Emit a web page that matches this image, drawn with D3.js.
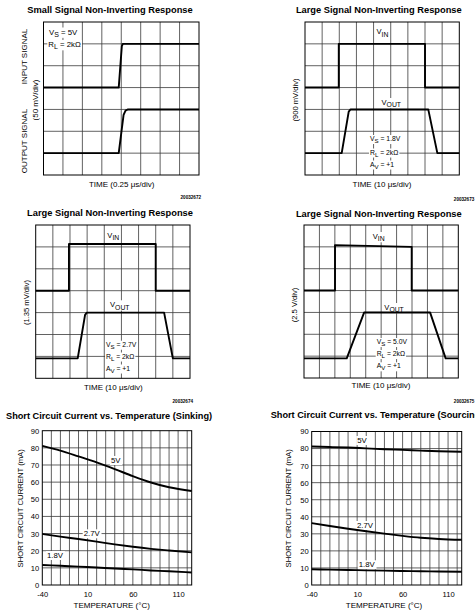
<!DOCTYPE html>
<html><head><meta charset="utf-8">
<script src="https://cdn.jsdelivr.net/npm/d3@7"></script>
<style>
body{margin:0;background:#fff}
svg{display:block}
text{font-family:"Liberation Sans",Arial,Helvetica,sans-serif;fill:#000}
</style>
</head><body>
<svg id="c" width="475" height="614"></svg>
<script>
// ---------------- DATA ----------------
// Scope traces: time in divisions, level in divisions (from bottom of screen)
const p1InTime   = [0, 3.87, 4.03, 4.08, 8];
const p1InLevel  = [4, 4, 5.9, 6, 6];
const p1OutTime  = [0, 3.87, 4.12, 4.22, 4.35, 8];
const p1OutLevel = [1, 1, 2.75, 2.95, 3, 3];

const p2InTime   = [0, 1.97, 1.97, 7.0, 7.0, 9];
const p2InLevel  = [4, 4, 6, 6, 4, 4];
const p2OutTime  = [0, 2.14, 2.55, 2.66, 7.19, 7.72, 9];
const p2OutLevel = [1, 1, 2.9, 3, 3, 1, 1];

const p3InTime   = [0, 1.94, 1.94, 7.0, 7.0, 9];
const p3InLevel  = [4, 4, 6.13, 6.13, 4, 4];
const p3OutTime  = [0, 2.45, 2.88, 2.98, 7.49, 8.0, 9];
const p3OutLevel = [0.91, 0.91, 2.9, 3, 3, 0.91, 0.91];

const p4InTime   = [0, 2.01, 2.01, 6.98, 6.98, 10];
const p4InLevel  = [4, 4, 6.08, 6.0, 4, 4];
const p4OutTime  = [0, 2.77, 3.9, 8.17, 9.18, 10];
const p4OutLevel = [0.9, 0.9, 3, 3, 0.9, 0.9];

// Short circuit current vs temperature (mA)
const tempC   = [-40, -20, 0, 20, 40, 60, 80, 100, 125];
const sink5V  = [81.2, 78.4, 75.0, 71.5, 67.6, 63.5, 59.8, 57.0, 54.8];
const sink27V = [29.8, 28.2, 26.8, 25.3, 23.7, 22.3, 21.1, 20.1, 19.0];
const sink18V = [11.7, 11.2, 10.7, 10.2, 9.6, 9.1, 8.5, 8.0, 7.3];
const src5V   = [81.2, 80.9, 80.6, 80.1, 79.6, 79.2, 78.8, 78.4, 78.1];
const src27V  = [36.3, 34.6, 33.0, 31.5, 30.1, 28.8, 27.7, 27.0, 26.5];
const src18V  = [9.2, 9.0, 8.8, 8.6, 8.4, 8.2, 8.1, 7.9, 7.8];

const tempTickLabels    = [-40, 10, 60, 110];
const currentTickLabels = [0, 10, 20, 30, 40, 50, 60, 70, 80, 90];
const tempGrid = [-30, -20, -10, 0, 10, 20, 30, 40, 50, 60, 70, 80, 90, 100, 110, 120];

// ---------------- HELPERS ----------------
const svg = d3.select('#c');
const GRID = '#3a3a3a';

function richText(g, x, y, parts, size, anchor, bg) {
  const t = g.append('text').attr('x', x).attr('y', y)
    .attr('font-size', size).attr('text-anchor', anchor || 'start');
  let shift = 0;
  parts.forEach(p => {
    const isSub = p[1] === 'sub';
    const ts = t.append('tspan').text(p[0]);
    const target = isSub ? size * 0.3 : 0;
    ts.attr('dy', target - shift);
    shift = target;
    if (isSub) ts.attr('font-size', size * 0.9);
  });
  if (bg) {
    const b = t.node().getBBox();
    g.insert('rect', () => t.node())
      .attr('x', b.x - 1).attr('y', b.y).attr('width', b.width + 2).attr('height', b.height)
      .attr('fill', '#fff');
  }
  return t;
}

function vText(x, y, str, size) {
  svg.append('text').attr('transform', `translate(${x},${y}) rotate(-90)`)
    .attr('text-anchor', 'middle').attr('font-size', size).text(str);
}

function drawScope(cfg) {
  const x = d3.scaleLinear().domain([0, cfg.cols]).range([cfg.l, cfg.r]);
  const y = d3.scaleLinear().domain([0, cfg.rows]).range([cfg.b, cfg.t]);
  const g = svg.append('g');
  g.selectAll('line.gv').data(d3.range(1, cfg.cols)).join('line')
    .attr('x1', d => x(d)).attr('x2', d => x(d)).attr('y1', cfg.t).attr('y2', cfg.b)
    .attr('stroke', GRID).attr('stroke-width', 0.8);
  g.selectAll('line.gh').data(d3.range(1, cfg.rows)).join('line')
    .attr('y1', d => y(d)).attr('y2', d => y(d)).attr('x1', cfg.l).attr('x2', cfg.r)
    .attr('stroke', GRID).attr('stroke-width', 0.8);
  cfg.notes.forEach(n => richText(g, n.x, n.y, n.parts, n.size, n.anchor, true));
  const line = d3.line().x(d => x(d[0])).y(d => y(d[1]));
  cfg.traces.forEach(tr => {
    g.append('path').attr('d', line(d3.zip(tr[0], tr[1])))
      .attr('fill', 'none').attr('stroke', '#000').attr('stroke-width', 1.9)
      .attr('stroke-linejoin', 'round');
  });
  g.append('rect').attr('x', cfg.l).attr('y', cfg.t)
    .attr('width', cfg.r - cfg.l).attr('height', cfg.b - cfg.t)
    .attr('fill', 'none').attr('stroke', '#000').attr('stroke-width', 1);
  svg.append('text').attr('x', (cfg.title[1])).attr('y', cfg.title[2])
    .attr('text-anchor', 'middle').attr('font-size', 9.3).attr('font-weight', 'bold')
    .text(cfg.title[0]);
  richText(svg, cfg.xlab[1], cfg.xlab[2], cfg.xlab[0], 8, 'middle', false);
  svg.append('text').attr('x', cfg.serial[1]).attr('y', cfg.serial[2])
    .attr('text-anchor', 'end').attr('font-size', 4.6).attr('font-weight', 'bold')
    .text(cfg.serial[0]);
}

function drawCurrent(cfg) {
  const x = d3.scaleLinear().domain([-40, 125]).range([cfg.l, cfg.r]);
  const y = d3.scaleLinear().domain([0, 90]).range([cfg.b, cfg.t]);
  const g = svg.append('g');
  g.selectAll('line.gv').data(tempGrid).join('line')
    .attr('x1', d => x(d)).attr('x2', d => x(d)).attr('y1', cfg.t).attr('y2', cfg.b)
    .attr('stroke', GRID).attr('stroke-width', 0.8);
  g.selectAll('line.gh').data(currentTickLabels.slice(1, -1)).join('line')
    .attr('y1', d => y(d)).attr('y2', d => y(d)).attr('x1', cfg.l).attr('x2', cfg.r)
    .attr('stroke', GRID).attr('stroke-width', 0.8);
  cfg.labels.forEach(n => richText(g, n.x, n.y, [[n.text]], 7.8, 'middle', true));
  const line = d3.line().x(d => x(d[0])).y(d => y(d[1])).curve(d3.curveMonotoneX);
  cfg.series.forEach(s => {
    g.append('path').attr('d', line(d3.zip(tempC, s)))
      .attr('fill', 'none').attr('stroke', '#000').attr('stroke-width', 1.9);
  });
  g.append('rect').attr('x', cfg.l).attr('y', cfg.t)
    .attr('width', cfg.r - cfg.l).attr('height', cfg.b - cfg.t)
    .attr('fill', 'none').attr('stroke', '#000').attr('stroke-width', 1);

  const ax = svg.append('g').attr('transform', `translate(0,${cfg.b})`)
    .call(d3.axisBottom(x).tickValues(tempTickLabels).tickSize(0).tickPadding(6.5)
      .tickFormat(d => String(d)));
  const ay = svg.append('g').attr('transform', `translate(${cfg.l},0)`)
    .call(d3.axisLeft(y).tickValues(currentTickLabels).tickSize(0).tickPadding(3)
      .tickFormat(d => String(d)));
  [ax, ay].forEach(a => {
    a.select('.domain').remove();
    a.attr('font-family', null).attr('font-size', null);
    a.selectAll('text').attr('font-size', 7.6).attr('fill', '#000');
  });
  svg.append('text').attr('x', cfg.xlab[0]).attr('y', cfg.xlab[1])
    .attr('text-anchor', 'middle').attr('font-size', 8).text('TEMPERATURE (°C)');
  vText(cfg.ylab[0], cfg.ylab[1], 'SHORT CIRCUIT CURRENT (mA)', 7.7);
  svg.append('text').attr('x', cfg.title[1]).attr('y', cfg.title[2])
    .attr('font-size', 9.2).attr('font-weight', 'bold').text(cfg.title[0]);
}

// ---------------- PANELS ----------------
drawScope({
  l: 43.5, r: 199, t: 22, b: 175, cols: 8, rows: 7,
  traces: [[p1InTime, p1InLevel], [p1OutTime, p1OutLevel]],
  notes: [
    {x: 49, y: 34.5, size: 7.8, parts: [['V'], ['S', 'sub'], [' = 5V']]},
    {x: 48.3, y: 47, size: 7.8, parts: [['R'], ['L', 'sub'], [' = 2kΩ']]}
  ],
  title: ['Small Signal Non-Inverting Response', 110, 13.3],
  xlab: [[['TIME (0.25 μs/div)']], 121.7, 187],
  serial: ['20032672', 201, 198.5]
});
vText(26.5, 56.5, 'INPUT SIGNAL', 8);
vText(38, 100, '(50 mV/div)', 8);
vText(26.5, 141, 'OUTPUT SIGNAL', 8);

drawScope({
  l: 305, r: 459.3, t: 22, b: 175, cols: 9, rows: 7,
  traces: [[p2InTime, p2InLevel], [p2OutTime, p2OutLevel]],
  notes: [
    {x: 376.5, y: 34.3, size: 7.6, parts: [['V'], ['IN', 'sub']]},
    {x: 381.5, y: 105, size: 7.6, parts: [['V'], ['OUT', 'sub']]},
    {x: 370, y: 141, size: 6.8, parts: [['V'], ['S', 'sub'], [' = 1.8V']]},
    {x: 370, y: 154.5, size: 6.8, parts: [['R'], ['L', 'sub'], [' = 2kΩ']]},
    {x: 370, y: 166.5, size: 6.8, parts: [['A'], ['V', 'sub'], [' = +1']]}
  ],
  title: ['Large Signal Non-Inverting Response', 378.8, 13.3],
  xlab: [[['TIME (10 μs/div)']], 382, 187],
  serial: ['20032673', 474.3, 200.5]
});
vText(297.5, 100, '(900 mV/div)', 7.6);

drawScope({
  l: 35.7, r: 190, t: 225, b: 378.3, cols: 9, rows: 7,
  traces: [[p3InTime, p3InLevel], [p3OutTime, p3OutLevel]],
  notes: [
    {x: 107.3, y: 237.7, size: 7.6, parts: [['V'], ['IN', 'sub']]},
    {x: 110, y: 307.3, size: 7.6, parts: [['V'], ['OUT', 'sub']]},
    {x: 106, y: 346.7, size: 6.8, parts: [['V'], ['S', 'sub'], [' = 2.7V']]},
    {x: 106, y: 358.5, size: 6.8, parts: [['R'], ['L', 'sub'], [' = 2kΩ']]},
    {x: 106, y: 370.5, size: 6.8, parts: [['A'], ['V', 'sub'], [' = +1']]}
  ],
  title: ['Large Signal Non-Inverting Response', 110, 215.7],
  xlab: [[['TIME (10 μs/div)']], 113.3, 390],
  serial: ['20032674', 193, 403]
});
vText(28.5, 302.5, '(1.35 mV/div)', 7.6);

drawScope({
  l: 304, r: 458.3, t: 225, b: 378, cols: 10, rows: 7,
  traces: [[p4InTime, p4InLevel], [p4OutTime, p4OutLevel]],
  notes: [
    {x: 372.7, y: 239, size: 7.6, parts: [['V'], ['IN', 'sub']]},
    {x: 384.3, y: 310, size: 7.6, parts: [['V'], ['OUT', 'sub']]},
    {x: 376.7, y: 344, size: 6.8, parts: [['V'], ['S', 'sub'], [' = 5.0V']]},
    {x: 376.7, y: 356, size: 6.8, parts: [['R'], ['L', 'sub'], [' = 2kΩ']]},
    {x: 376.7, y: 368.3, size: 6.8, parts: [['A'], ['V', 'sub'], [' = +1']]}
  ],
  title: ['Large Signal Non-Inverting Response', 378.8, 216.7],
  xlab: [[['TIME (10 μs/div)']], 381, 388.3],
  serial: ['20032675', 474.3, 403]
});
vText(296.5, 305, '(2.5 V/div)', 7.6);

drawCurrent({
  l: 42.3, r: 191.7, t: 430.7, b: 585,
  series: [sink5V, sink27V, sink18V],
  labels: [
    {x: 115.7, y: 463, text: '5V'},
    {x: 91.7, y: 536.3, text: '2.7V'},
    {x: 55, y: 558, text: '1.8V'}
  ],
  xlab: [111.7, 607.7], ylab: [22.5, 508.3],
  title: ['Short Circuit Current vs. Temperature (Sinking)', 6, 419]
});

drawCurrent({
  l: 311.7, r: 461.7, t: 431.5, b: 585,
  series: [src5V, src27V, src18V],
  labels: [
    {x: 362, y: 443, text: '5V'},
    {x: 365, y: 528, text: '2.7V'},
    {x: 366.7, y: 567.3, text: '1.8V'}
  ],
  xlab: [384, 607.7], ylab: [290.5, 508.3],
  title: ['Short Circuit Current vs. Temperature (Sourcing)', 270.7, 418.3]
});
</script>
</body></html>
